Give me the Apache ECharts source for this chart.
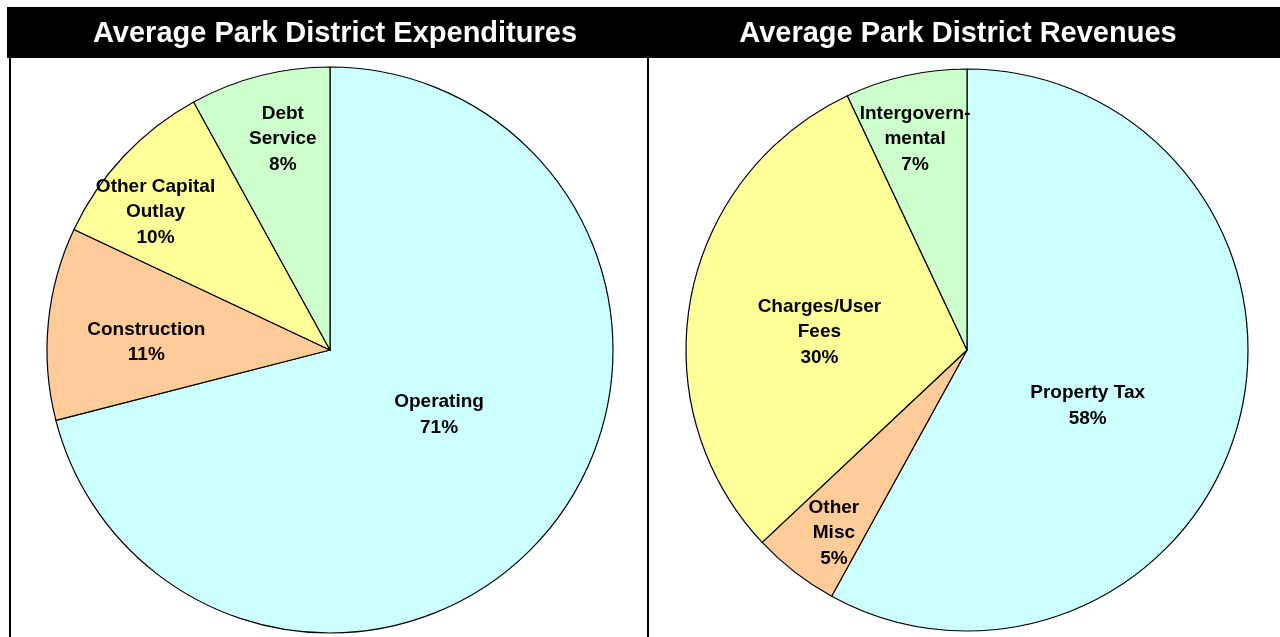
<!DOCTYPE html>
<html>
<head>
<meta charset="utf-8">
<title>Average Park District Expenditures / Revenues</title>
<script src="https://cdn.jsdelivr.net/npm/echarts@6/dist/echarts.min.js"></script>
<style>
  html, body { margin: 0; padding: 0; background: #fff; }
  #chart { width: 1280px; height: 637px; }
</style>
</head>
<body>
<div id="chart"></div>
<script>
  // 数据：支出
  const expenseNames = ['Operating', 'Construction', 'Other Capital\nOutlay', 'Debt\nService'];
  const expenseValues = [71, 11, 10, 8];

  // 数据：收入
  const revenueNames = ['Property Tax', 'Other\nMisc', 'Charges/User\nFees', 'Intergovern-\nmental'];
  const revenueValues = [58, 5, 30, 7];

  const sliceColors = ['#CCFFFF', '#FFCC99', '#FFFF99', '#CCFFCC'];

  // 标签位置（角度°，半径比例），只是样式
  const expenseLabelPolar = [[120, 0.445], [273, 0.65], [308.7, 0.79], [347.5, 0.77]];
  const revenueLabelPolar = [[114, 0.47], [216.3, 0.8], [277.7, 0.53], [346.3, 0.78]];

  const pies = [
    { names: expenseNames, values: expenseValues, center: [330, 350], radius: 283, polar: expenseLabelPolar },
    { names: revenueNames, values: revenueValues, center: [967, 350], radius: 281, polar: revenueLabelPolar },
  ];

  const chart = echarts.init(document.getElementById('chart'));

  function buildSeries(p) {
    return {
      type: 'pie',
      center: p.center,
      radius: p.radius,
      startAngle: 90,
      clockwise: true,
      silent: true,
      animation: false,
      data: p.names.map((n, i) => ({
        name: n,
        value: p.values[i],
        itemStyle: { color: sliceColors[i] },
      })),
      itemStyle: { borderColor: '#000', borderWidth: 1.2 },
      label: {
        show: true,
        position: 'inside',
        formatter: '{b}\n{c}%',
        color: '#000',
        fontFamily: 'Liberation Sans, Arial, sans-serif',
        fontWeight: 'bold',
        fontSize: 19,
        lineHeight: 25.5,
        align: 'center',
      },
      labelLine: { show: false },
      labelLayout: (params) => {
        const pol = p.polar[params.dataIndex];
        const a = (pol[0] * Math.PI) / 180;
        const d = pol[1] * p.radius;
        return {
          x: p.center[0] + d * Math.sin(a),
          y: p.center[1] - d * Math.cos(a) + 2,
          align: 'center',
          verticalAlign: 'middle',
        };
      },
    };
  }

  const titleStyle = {
    color: '#fff',
    fontFamily: 'Liberation Sans, Arial, sans-serif',
    fontWeight: 'bold',
    fontSize: 29,
  };

  chart.setOption({
    backgroundColor: '#fff',
    title: [
      { text: 'Average Park District Expenditures', left: 335, top: 19, textAlign: 'center', padding: 0, textStyle: titleStyle },
      { text: 'Average Park District Revenues', left: 958, top: 19, textAlign: 'center', padding: 0, textStyle: titleStyle },
    ],
    graphic: [
      // 标题黑条
      { type: 'rect', z: -1, shape: { x: 7, y: 7, width: 1273, height: 51 }, style: { fill: '#000' } },
      // 边框竖线
      { type: 'line', shape: { x1: 10, y1: 58, x2: 10, y2: 637 }, style: { stroke: '#000', lineWidth: 2 } },
      { type: 'line', shape: { x1: 648, y1: 58, x2: 648, y2: 637 }, style: { stroke: '#000', lineWidth: 2 } },
    ],
    series: pies.map(buildSeries),
  });

  window.addEventListener('resize', () => chart.resize());
</script>
</body>
</html>
